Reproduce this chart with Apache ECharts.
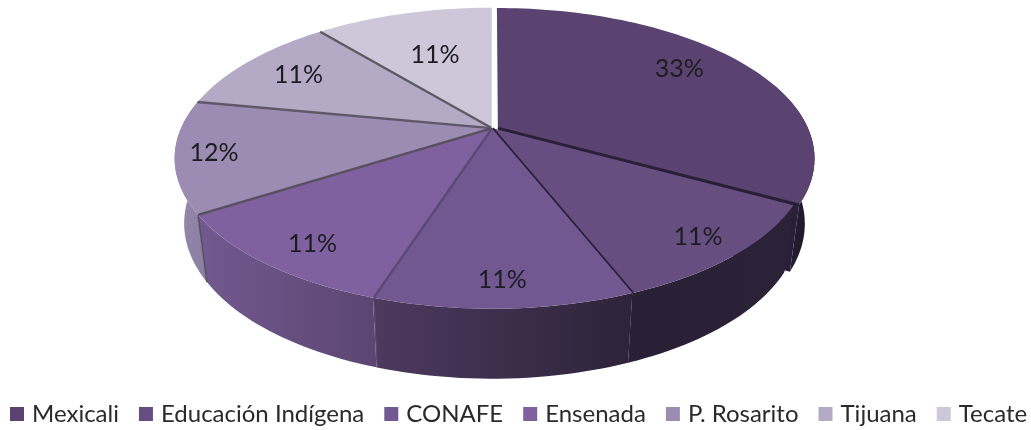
<!DOCTYPE html>
<html><head><meta charset="utf-8">
<script src="https://cdn.jsdelivr.net/npm/echarts@6/dist/echarts.min.js"></script>
<style>html,body{margin:0;padding:0;background:#fff}#c{width:1031px;height:430px}</style>
</head><body><div id="c"></div>
<script>
const categories = ['Mexicali','Educación Indígena','CONAFE','Ensenada','P. Rosarito','Tijuana','Tecate'];
const values = [33,11,11,11,12,11,11];

const topColors = ['#5A4370','#664F80','#715890','#7E619E','#9C8BB2','#B5AAC6','#CDC7D9'];
const seamColors = ['#2A1F38','#2A2036','#5C4876','#58505F','#5F5868','#5C5A62',null];
const wallStops = [
  ['#2B2136','#1F1829'],
  ['#2A2036','#2B2238'],
  ['#4C3A5F','#2E2339'],
  ['#72598F','#5B4672'],
  ['#958AB0','#8A7FA0'],
  null,null
];
const labelRadius = [.78,.87,.87,.85,.88,.78,.6];
const labelTurn = [-4.4,0,0,-2,0,0,0];
const CX=492, CY=128, R=310, K=144, P=.2;
const total = values.reduce((a,b)=>a+b,0);
const rad = d=>d*Math.PI/180;

function proj(mx,my,h){
  const f = 1/(1-P*my);
  return [CX+mx*R*f*(1-.03*h), CY+my*K*f+h*(64+6*my)];
}
function sliceGeom(i){
  let before=0; for(let j=0;j<i;j++) before+=values[j];
  const a0=before/total*360, a1=(before+values[i])/total*360;
  const mid=rad((a0+a1)/2), ex=i===0?.022:.003;
  return {a0,a1,mid,ox:Math.sin(mid)*ex,oy:(i===0?0:-Math.cos(mid)*ex)};
}
function rim(g,a,h){
  const t=rad(a);
  return proj(g.ox+Math.sin(t),g.oy-Math.cos(t),h);
}
function arcPts(g,from,to,h){
  const pts=[],n=Math.max(2,Math.ceil((to-from)/1.5));
  for(let k=0;k<=n;k++) pts.push(rim(g,from+(to-from)*k/n,h));
  return pts;
}
function makeRender(i){
  return function(params,api){
    const g=sliceGeom(i), children=[];
    const apex=proj(g.ox,g.oy,0);
    const w0=Math.max(g.a0,72), w1=Math.min(g.a1,288);
    if(wallStops[i] && w1>w0){
      const t=arcPts(g,w0,w1,0), b=arcPts(g,w0,w1,1).reverse();
      const pts=t.concat(b);
      const xs=pts.map(p=>p[0]);
      const grad=new echarts.graphic.LinearGradient(Math.min(...xs),0,Math.max(...xs),0,
        [{offset:0,color:wallStops[i][0]},{offset:1,color:wallStops[i][1]}],true);
      children.push({type:'polygon',shape:{points:pts},style:{fill:grad}});
      if(i===0){
        const et=rim(g,g.a1,0), eb=rim(g,g.a1,1), ab=proj(g.ox,g.oy,1);
        children.push({type:'polygon',shape:{points:[apex,et,eb,ab]},style:{fill:seamColors[0]}});
      }else if(seamColors[i]){
        children.push({type:'line',shape:{x1:rim(g,g.a1,0)[0],y1:rim(g,g.a1,0)[1],x2:rim(g,g.a1,1)[0],y2:rim(g,g.a1,1)[1]},
          style:{stroke:seamColors[i],lineWidth:1.5}});
      }
    }
    const top=[apex].concat(arcPts(g,g.a0,g.a1,0));
    children.push({type:'polygon',shape:{points:top},style:{fill:topColors[i]}});
    if(seamColors[i]){
      const e=rim(g,g.a1,0);
      children.push({type:'line',shape:{x1:apex[0],y1:apex[1],x2:e[0],y2:e[1]},
        style:{stroke:seamColors[i],lineWidth:2.4}});
    }
    const r=labelRadius[i], la=g.mid+rad(labelTurn[i]);
    const lp=proj(g.ox+Math.sin(la)*r,g.oy-Math.cos(la)*r,0);
    children.push({type:'text',z2:10,style:{text:api.value(0)+'%',x:lp[0],y:lp[1],
      fill:'#1c1c22',font:'25px Lato',align:'center',verticalAlign:'middle'}});
    return {type:'group',children};
  };
}
const drawOrder=[6,5,0,4,1,3,2];
const chart=echarts.init(document.getElementById('c'));
chart.setOption({
  animation:false,
  backgroundColor:'#fff',
  legend:{
    left:5,top:397,width:1026,itemWidth:14,itemHeight:14,itemGap:20,
    icon:'rect',
    data:categories,
    textStyle:{fontFamily:'Lato',fontSize:24,color:'#2a2a2a',padding:[0,0,0,3]}
  },
  series:categories.map((name,i)=>({
    type:'custom',name,coordinateSystem:'none',
    z:2+drawOrder.indexOf(i),silent:true,
    itemStyle:{color:topColors[i]},
    data:[[values[i]]],
    renderItem:makeRender(i)
  }))
});
</script></body></html>
